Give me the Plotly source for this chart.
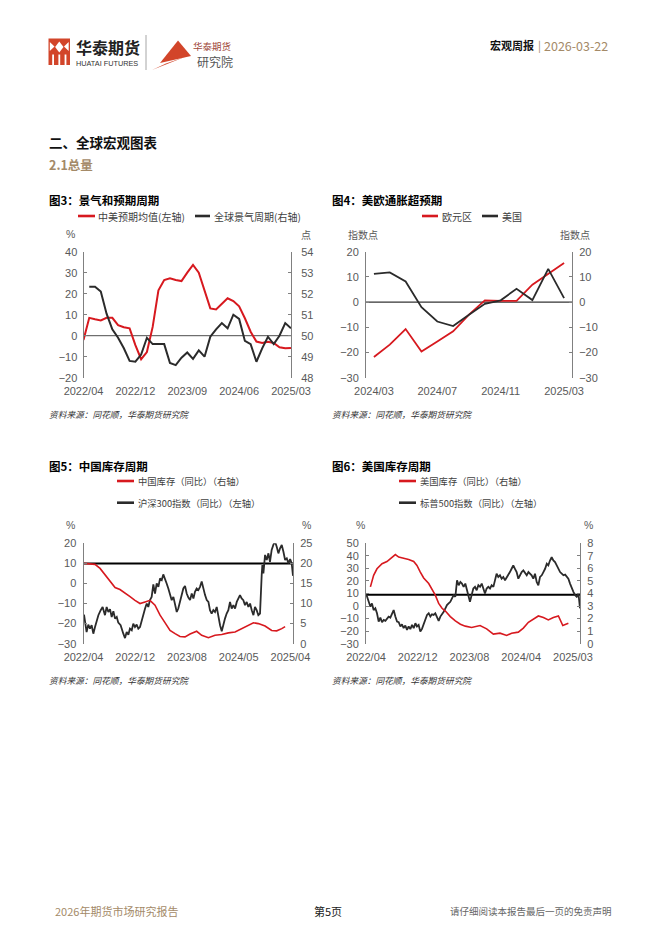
import plotly.graph_objects as go

W, H = 662, 936
def px(x): return x / W
def py(y): return 1 - y / H

FONT = "Noto Sans CJK SC"
NUMFONT = "Liberation Sans"
RED = "#d7191f"
BLACK = "#2b2b2b"
TAN = "#a48a68"
GRAY = "#595959"
AXIS = "#808080"

# ---------------- data ----------------
# Chart 3: 景气和预期周期
x3_ticktext = ["2022/04", "2022/12", "2023/09", "2024/06", "2025/03"]
x3_tickvals = [0, 9, 18, 27, 36]
x3_red = [0, 1, 2, 3, 4, 5, 6, 7, 8, 9, 10, 11, 12, 13, 14, 15, 16, 17, 18, 19, 20,
          21, 22, 23, 24, 25, 26, 27, 28, 29, 30, 31, 32, 33, 34, 35, 36]
red3 = [-2, 8.5, 7.8, 7.3, 8.5, 8.5, 5, 4, 3.5, -4.5, -11.2, -7.8, 4.2, 21.6, 26.5, 27.3,
        26.5, 26, 30, 33.7, 30, 21, 13, 12.5, 15, 17.8, 16.5, 14, 8.3, 1.9, -2.8, -3.5,
        -2.9, -3.5, -5.5, -6, -5.8]
x3_black = [1, 2, 3, 4, 5, 6, 7, 8, 9, 10, 11, 12, 13, 14, 15, 16, 17, 18, 19, 20,
            21, 22, 23, 24, 25, 26, 27, 28, 29, 30, 31, 32, 33, 34, 35, 36]
black3 = [52.33, 52.33, 52.1, 51.05, 50.3, 49.9, 49.4, 48.8, 48.76, 49.1, 49.9, 49.6, 49.6,
          49.6, 48.7, 48.6, 48.95, 49.2, 48.9, 49.3, 49.0, 49.95, 50.3, 50.6, 50.35, 51.0,
          50.8, 49.75, 49.6, 48.76, 49.4, 49.95, 49.6, 50.0, 50.6, 50.35]

# Chart 4: 美欧通胀超预期
cats4 = ["2024/03", "2024/04", "2024/05", "2024/06", "2024/07", "2024/08", "2024/09",
         "2024/10", "2024/11", "2024/12", "2025/01", "2025/02", "2025/03"]
ticks4 = ["2024/03", "2024/07", "2024/11", "2025/03"]
eur4 = [-21.8, -16.9, -10.7, -19.6, -15.6, -11.6, -5, 0.7, 0.5, 0.5, 6.9, 11.1, 15.5]
us4 = [11.2, 11.8, 8.2, -2, -7.7, -9.5, -5, -0.7, 0.7, 5.3, 0.8, 13.2, 1.6]

# Chart 5: 中国库存周期
x5_ticktext = ["2022/04", "2022/12", "2023/08", "2024/05", "2025/04"]
x5_tickvals = [0, 40, 80, 120, 160]
x5_black = [0.4, 2.4, 3.7, 5.0, 6.3, 7.6, 8.9, 10.2, 11.5, 13.3, 14.8, 16.6, 17.9, 19.2, 20.5,
            21.8, 23.1, 24.4, 25.7, 26.9, 28.7, 30.8, 32.1, 33.4, 34.7, 35.9, 37.3, 38.5, 39.8,
            41.1, 42.4, 43.7, 45.0, 46.3, 47.6, 48.9, 50.1, 51.4, 52.7, 54.0, 55.3, 56.6, 57.9,
            59.2, 60.5, 61.7, 63.0, 64.3, 65.6, 66.9, 68.2, 69.5, 70.8, 72.1, 73.3, 74.6, 75.9,
            77.2, 78.5, 79.8, 81.1,
            82.4, 83.7, 85.0, 86.2, 87.5, 88.8, 90.1, 91.4, 92.7, 94.0, 95.3, 96.6, 97.8, 99.1,
            100.4, 101.7, 103.0, 104.3, 105.6, 106.9, 108.2, 109.4, 110.7, 112.0, 113.3, 114.6,
            115.9, 117.2, 118.5, 119.8, 121.0, 122.3, 123.6, 124.9, 126.2, 127.5, 128.8, 130.1,
            131.4, 132.6, 133.9, 135.2, 136.5, 137.8, 138.3, 139.1, 140.4, 141.7, 143.0, 144.2,
            145.5, 146.8, 148.1, 149.4, 150.7, 152.0, 153.3, 154.6, 155.9, 157.2, 158.5, 159.8,
            161.0, 162.0]
hs300_yoy = [-15.5, -24.2, -20.5, -22.5, -20.8, -25, -21.7, -18.3, -15.8, -13.3, -11.7, -15.8,
             -11.7, -14.2, -12.8, -16.7, -13.8, -17.5, -16.7, -19.5, -20.8, -25, -27.2, -24.2,
             -25.5, -22.5, -23.3, -20, -21.7, -20.5, -22.5, -21.7, -18.3, -15.5, -12.5, -10,
             -11.7, -8.3, -6.7, -0.5, -5, 0, -1.7, 2.5, 1.7, 4.5, 2.5, 0, -2.5, -5, -8.3, -6.7,
             -10, -14.2, -12.5, -9.2, -6.7, -2.5, -1.2, -5, -7,
             -8.3, -5, -7.5, -4.2, -2.5, -3.3, -1.7, 1.0, -3.3, -5.8, -8.3, -9.2, -13.3, -15,
             -13.3, -14.2, -11.7, -17.5, -20.8, -23.8, -20, -17.5, -15, -13.3, -9.2, -12.5,
             -10.8, -12.5, -9.2, -7.5, -5.8, -7.5, -8.3, -10.8, -9.2, -11.7, -10, -13.3, -15.8,
             -11.7, -13.3, -15.8, -15, 4.2, 9.2, 5, 14.2, 11.7, 15, 10.8, 16.7, 19.2, 20.8,
             18.3, 15, 17.5, 19.2, 15.8, 11.7, 12.5, 10, 12.2, 10, 3.8]
x5_red = [0.4, 8.9, 12.8, 16.6, 20.5, 24.4, 28.2, 32.1, 36.0, 39.8, 43.7, 47.6, 51.4, 55.3,
          59.2, 63.0, 66.9, 70.8, 74.6, 78.5, 82.4, 87.5, 91.4, 96.6, 101.7, 106.9, 112.0,
          117.2, 122.3, 127.5, 131.4, 135.2, 140.4, 145.5, 149.4, 153.3, 155.9]
cn_inventory = [20, 19.75, 18.75, 17.1, 15.4, 14, 13.5, 12.5, 11.7, 10.8, 10, 10.4, 10.8, 9.6,
                7.1, 5.25, 3.3, 2.5, 1.8, 1.7, 2.4, 3.1, 2.1, 1.5, 2.1, 2.3, 2.7, 2.9, 3.75,
                4.75, 5.2, 5.0, 4.4, 3.3, 3.2, 3.75, 4.25]
REF5 = 10

# Chart 6: 美国库存周期
x6_ticktext = ["2022/04", "2022/12", "2023/08", "2024/04", "2025/03"]
x6_tickvals = [0, 40, 80, 120, 160]
x6_black = [0, 1.5, 3.4, 4.6, 5.9, 7.2, 8.5, 9.8, 11.1, 12.4, 13.7, 15.0, 16.2, 17.5, 18.8,
            20.1, 21.4, 22.7, 24.0, 25.3, 26.6, 27.8, 29.1, 30.4, 31.7, 33.0, 34.3, 35.6, 36.9,
            38.2, 39.4, 40.7, 42.0, 43.3, 44.6, 45.9, 47.2, 48.5, 49.8, 51.0, 52.3, 53.6, 54.9,
            56.2, 57.5, 58.8, 60.1, 61.4, 62.6, 63.9, 65.2, 66.5, 67.8, 69.1, 70.4, 71.7, 73.0,
            74.2, 75.5, 76.8,
            77.9, 79.1, 80.4, 81.7, 83.0, 84.3, 85.6, 86.9, 88.2, 89.5, 90.8, 92.0, 93.3, 94.6,
            95.9, 97.2, 98.5, 99.8, 101.0, 102.3, 103.6, 104.9, 106.2, 107.5, 108.8, 110.1,
            111.3, 112.6, 113.9, 115.2, 116.5, 117.8, 119.1, 120.4, 121.7, 123.0, 124.3, 125.6,
            126.8, 128.1, 129.4, 130.7, 132.0, 133.3, 134.6, 135.9, 137.2, 138.5, 139.8, 141.0,
            142.3, 143.6, 144.9, 146.2, 147.5, 148.8, 150.1, 151.4, 152.7, 154.0, 155.3, 156.5,
            157.8, 159.1, 160.4, 161.7, 163.0, 164.3, 165.5]
spx_yoy = [10, 4.7, -0.5, 2.1, -3.2, -1.8, -5.8, -12.4, -9.2, -12.9, -11, -11.8, -9.7, -8.4,
           -9.2, -5.8, -3.2, -8.4, -12.4, -12.9, -16.3, -14.5, -17.6, -15.5, -19, -16.3, -18.4,
           -15, -17.6, -13.7, -16.3, -15, -20.3, -18.2, -14.5, -11, -7.1, -5.8, -8.4, -6.6,
           -7.1, -5.8, -8.4, -11.8, -8.4, -6.6, -4.5, -1.8, 0.8, 2.1, 3.4, 6.1, 8.7, 7.4, 20.5,
           16.6, 19.2, 17.9, 15.3, 17.9,
           12.6, 7.4, 3.4, 8.7, 14, 15.3, 12.6, 16.6, 15.3, 17.9, 14, 10, 14, 15.3, 14, 16.6,
           15.3, 20.5, 25.8, 23.2, 24.5, 21.8, 23.2, 20.5, 23.2, 25.8, 27.1, 29.7, 32.4, 29.7,
           27.1, 21.8, 24.5, 27.1, 28.4, 25.8, 24.5, 27.1, 25.8, 24.5, 21.8, 25.8, 19.2, 16.6,
           23.2, 24.5, 27.1, 29.7, 33.7, 32.4, 36.3, 38.9, 36.3, 35, 32.4, 29.7, 27.1, 25.8,
           24.5, 25, 23.2, 21.8, 17.9, 14, 11.3, 8.7, 7.4, 10, -1.8]
x6_red = [3.4, 5.9, 8.5, 12.4, 16.2, 18.8, 21.4, 22.7, 25.3, 29.1, 33.0, 36.9, 39.4, 42.0,
          44.6, 48.5, 51.0, 53.6, 56.2, 58.8, 61.4, 65.2, 69.1, 73.0, 76.8, 81.7, 88.2, 93.3,
          98.5, 103.6, 108.8, 112.6, 117.8, 121.7, 125.6, 129.4, 133.3, 137.2, 141.0, 144.9,
          148.8, 152.2, 154.0, 156.5]
us_inventory = [4.53, 5.45, 5.97, 6.37, 6.55, 6.76, 6.97, 7.1, 6.9, 6.82, 6.71, 6.55, 6.24,
                5.71, 5.24, 4.79, 4.39, 3.87, 3.21, 2.82, 2.6, 2.16, 1.82, 1.55, 1.4, 1.29,
                1.45, 1.18, 0.76, 0.84, 0.66, 0.84, 0.92, 1.24, 1.71, 1.97, 2.21, 2.08, 1.89,
                2.08, 2.21, 1.45, 1.55, 1.63]
REF6 = 9

# ---------------- figure ----------------
fig = go.Figure()

def line(x, y, xa, ya, color, width):
    fig.add_trace(go.Scatter(x=x, y=y, xaxis=xa, yaxis=ya, mode="lines",
                             line=dict(color=color, width=width), showlegend=False,
                             hoverinfo="skip"))

line(x3_red, red3, "x", "y", RED, 2)
line(x3_black, black3, "x", "y2", BLACK, 2)
line(cats4, eur4, "x2", "y3", RED, 1.8)
line(cats4, us4, "x2", "y4", BLACK, 1.8)
line(x5_red, cn_inventory, "x3", "y6", RED, 1.6)
line(x5_black, hs300_yoy, "x3", "y5", BLACK, 1.8)
line(x6_red, us_inventory, "x4", "y8", RED, 1.6)
line(x6_black, spx_yoy, "x4", "y7", BLACK, 1.8)

tickfont = dict(family=NUMFONT, size=11, color=GRAY)

def xax(l, r, rng, tv, tt, anchor, typ="linear"):
    return dict(domain=[px(l), px(r)], range=rng, tickvals=tv, ticktext=tt, anchor=anchor,
                showline=False, ticks="", showgrid=False, zeroline=False, type=typ,
                tickfont=tickfont, fixedrange=True, ticklabelstandoff=5, automargin=False)

def yax(top, bot, rng, dtick, anchor, side="left", overlaying=None, standoff=3):
    d = dict(range=rng, dtick=dtick, anchor=anchor, side=side, showline=True,
             linecolor=AXIS, linewidth=1, ticks="inside", ticklen=3, tickcolor=AXIS,
             showgrid=False, zeroline=False, tickfont=tickfont, fixedrange=True,
             ticklabelstandoff=standoff, automargin=False)
    if overlaying:
        d["overlaying"] = overlaying
    else:
        d["domain"] = [py(bot), py(top)]
    return d

layout = dict(
    template="none",
    width=W, height=H, autosize=False, margin=dict(l=0, r=0, t=0, b=0, pad=0),
    paper_bgcolor="white", plot_bgcolor="rgba(0,0,0,0)", showlegend=False,
    font=dict(family=FONT, color=GRAY),
    xaxis=xax(83.5, 291, [0, 36], x3_tickvals, x3_ticktext, "y"),
    yaxis=yax(251.7, 377.7, [-20, 40], 10, "x", standoff=3),
    yaxis2=yax(0, 0, [48, 54], 1, "x", "right", "y", standoff=7),
    xaxis2=xax(366, 572, [-0.5, 12.5], ticks4, ticks4, "y3", "category"),
    yaxis3=yax(251.7, 377.7, [-30, 20], 10, "x2", standoff=4),
    yaxis4=yax(0, 0, [-30, 20], 10, "x2", "right", "y3", standoff=4),
    xaxis3=xax(83.5, 293, [0, 162], x5_tickvals, x5_ticktext, "y5"),
    yaxis5=yax(543.3, 643.7, [-30, 20], 10, "x3", standoff=4),
    yaxis6=yax(0, 0, [0, 25], 5, "x3", "right", "y5", standoff=4),
    xaxis4=xax(366, 580, [0, 165.5], x6_tickvals, x6_ticktext, "y7"),
    yaxis7=yax(543.3, 643.7, [-30, 50], 10, "x4", standoff=4),
    yaxis8=yax(0, 0, [0, 8], 1, "x4", "right", "y7", standoff=4),
)
fig.update_layout(**layout)

shapes = []
# reference lines
shapes.append(dict(type="line", xref="x domain", yref="y", x0=0, x1=1, y0=0, y1=0,
                   line=dict(color="#4d4d4d", width=1), layer="below"))
shapes.append(dict(type="line", xref="x2 domain", yref="y3", x0=0, x1=1, y0=0, y1=0,
                   line=dict(color="#000000", width=1), layer="below"))
shapes.append(dict(type="line", xref="x3 domain", yref="y5", x0=0, x1=1, y0=REF5, y1=REF5,
                   line=dict(color="#000000", width=2), layer="below"))
shapes.append(dict(type="line", xref="x4 domain", yref="y7", x0=0, x1=1, y0=REF6, y1=REF6,
                   line=dict(color="#000000", width=2), layer="below"))

def pline(x0, y0, x1, y1, color, width):
    shapes.append(dict(type="line", xref="paper", yref="paper", x0=px(x0), y0=py(y0),
                       x1=px(x1), y1=py(y1), line=dict(color=color, width=width)))

def poly(pts, color):
    path = "M " + " L ".join(f"{px(a):.5f},{py(b):.5f}" for a, b in pts) + " Z"
    shapes.append(dict(type="path", xref="paper", yref="paper", path=path,
                       fillcolor=color, line=dict(width=0)))

# header logo 1
LOGO = "#d2452a"
poly([(48.5, 38.5), (70, 38.5), (70, 65), (48.5, 65)], LOGO)
poly([(59.3, 41.5), (63.5, 47), (59.3, 52.5), (55.1, 47)], "white")
poly([(49.8, 42), (54.5, 46.5), (49.8, 51)], "white")
poly([(68.7, 42), (64, 46.5), (68.7, 51)], "white")
for bx in (52.2, 58.4, 64.6):
    poly([(bx, 54.5), (bx + 1.8, 54.5), (bx + 1.8, 65), (bx, 65)], "white")
# separator
pline(146, 35, 146, 70, "#a6a6a6", 1)
# logo 2 (arrow)
poly([(160, 63), (178, 40.5), (191, 56)], LOGO)
poly([(152, 70), (186, 56.5), (166, 63.5)], LOGO)

# legends
pline(78, 216, 95, 216, RED, 2.6)
pline(195, 216, 210, 216, BLACK, 2.6)
pline(422, 216, 438, 216, RED, 2.6)
pline(482, 216, 498, 216, BLACK, 2.6)
pline(117, 481, 134, 481, RED, 2.6)
pline(117, 502.7, 134, 502.7, BLACK, 2.6)
pline(399, 481, 416, 481, RED, 2.6)
pline(399, 502.7, 416, 502.7, BLACK, 2.6)
fig.update_layout(shapes=shapes)

ann = []
def txt(x, y, s, size, color, anchor="left", bold=False, italic=False, family=FONT):
    if bold:
        s = f"<b>{s}</b>"
    if italic:
        s = f"<i>{s}</i>"
    ann.append(dict(x=px(x), y=py(y), xref="paper", yref="paper", text=s, showarrow=False,
                    xanchor=anchor, yanchor="middle", borderpad=0,
                    font=dict(family=family, size=size, color=color)))

# header
txt(74.5, 47.3, "华泰期货", 16, "#222222", bold=True)
txt(75, 63.6, "HUATAI FUTURES", 7.3, "#333333", family=NUMFONT)
txt(192, 45.6, "华泰期货", 9.5, "#a0483a")
txt(196, 62, "研究院", 12, "#555555")
txt(489, 45, "宏观周报", 11, "#111111", bold=True)
txt(537, 45, "|", 11, TAN)
txt(543, 45, "2026-03-22", 12.5, TAN)

# section headings
txt(47.5, 142, "二、全球宏观图表", 13.5, "#111111", bold=True)
txt(47.5, 164, "2.1总量", 12.5, TAN, bold=True)

# chart titles
txt(47.5, 200, "图3：景气和预期周期", 11.5, "#000000", bold=True)
txt(330.5, 200, "图4：美欧通胀超预期", 11.5, "#000000", bold=True)
txt(47.5, 465.5, "图5：中国库存周期", 11.5, "#000000", bold=True)
txt(330.5, 465.5, "图6：美国库存周期", 11.5, "#000000", bold=True)

# legend texts
LG = "#404040"
txt(97, 216, "中美预期均值(左轴)", 10, LG)
txt(213, 216, "全球景气周期(右轴)", 10, LG)
txt(441, 216, "欧元区", 10, LG)
txt(501, 216, "美国", 10, LG)
txt(137, 481, "中国库存（同比）（右轴）", 9.3, LG)
txt(137, 502.7, "沪深300指数（同比）（左轴）", 9.3, LG)
txt(419, 481, "美国库存（同比）（右轴）", 9.3, LG)
txt(419, 502.7, "标普500指数（同比）（左轴）", 9.3, LG)

# unit labels
txt(70.7, 234, "%", 10.5, GRAY, anchor="center", family=NUMFONT)
txt(305.5, 234, "点", 10, GRAY, anchor="center")
txt(362.7, 234, "指数点", 10, GRAY, anchor="center")
txt(575, 234, "指数点", 10, GRAY, anchor="center")
txt(70.7, 525, "%", 10.5, GRAY, anchor="center", family=NUMFONT)
txt(306.7, 525, "%", 10.5, GRAY, anchor="center", family=NUMFONT)
txt(360.7, 525, "%", 10.5, GRAY, anchor="center", family=NUMFONT)
txt(588, 525, "%", 10.5, GRAY, anchor="center", family=NUMFONT)

# sources
SRC = "资料来源：同花顺，华泰期货研究院"
txt(47.5, 414, SRC, 8.7, "#333333", italic=True)
txt(330.5, 414, SRC, 8.7, "#333333", italic=True)
txt(47.5, 680, SRC, 8.7, "#333333", italic=True)
txt(330.5, 680, SRC, 8.7, "#333333", italic=True)

# footer
txt(54, 911, "2026年期货市场研究报告", 11, TAN)
txt(328, 911, "第5页", 11, "#222222", anchor="center")
txt(613, 911, "请仔细阅读本报告最后一页的免责声明", 9.5, "#666666", anchor="right")

fig.update_layout(annotations=ann)

fig.write_html("out.html", config={"displayModeBar": False, "staticPlot": True},
               post_script="document.body.style.margin='0';document.body.style.overflow='hidden';")
